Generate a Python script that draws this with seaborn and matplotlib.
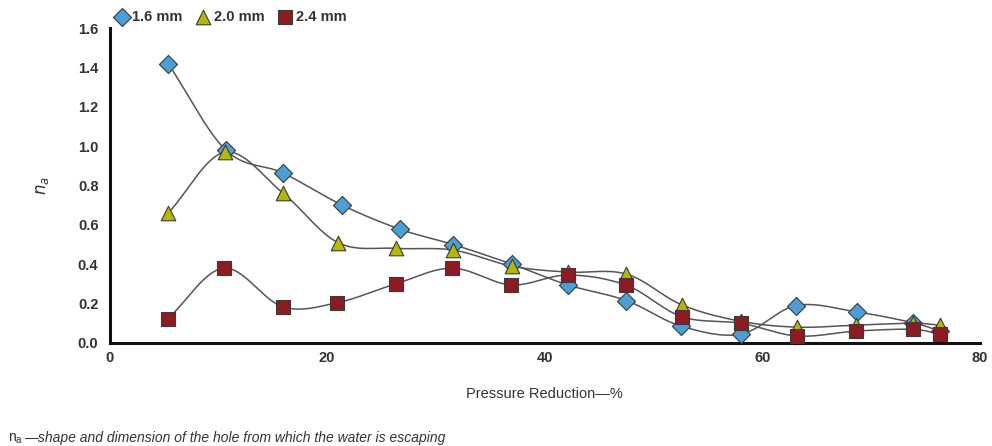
import numpy as np
import pandas as pd
import matplotlib
matplotlib.use("Agg")
import matplotlib.pyplot as plt
import seaborn as sns

# Values
x_16 = [5.4, 10.7, 15.9, 21.4, 26.7, 31.6, 37.0, 42.1, 47.5, 52.5, 58.0, 63.1, 68.7, 73.8, 76.3]
na_16 = [1.42, 0.98, 0.865, 0.70, 0.578, 0.50, 0.40, 0.295, 0.215, 0.086, 0.044, 0.19, 0.157, 0.103, 0.06]

x_20 = [5.4, 10.6, 15.9, 21.0, 26.3, 31.6, 37.0, 42.1, 47.5, 52.6, 58.0, 63.2, 68.6, 73.8, 76.3]
na_20 = [0.66, 0.97, 0.764, 0.51, 0.481, 0.472, 0.39, 0.36, 0.35, 0.193, 0.11, 0.08, 0.09, 0.10, 0.09]

x_24 = [5.35, 10.5, 15.9, 20.9, 26.3, 31.5, 36.9, 42.1, 47.5, 52.6, 58.0, 63.2, 68.6, 73.8, 76.3]
na_24 = [0.122, 0.38, 0.184, 0.204, 0.30, 0.38, 0.295, 0.345, 0.293, 0.133, 0.10, 0.035, 0.06, 0.069, 0.044]

series = ["1.6 mm", "2.0 mm", "2.4 mm"]
colors = ["#4b9fd6", "#b3b800", "#8c1b22"]
markers = ["D", "^", "s"]


def catmull_rom(xs, ys, n=30):
    """Smooth curve through the points (like a spreadsheet 'smoothed line')."""
    p = np.column_stack([xs, ys]).astype(float)
    p = np.vstack([2 * p[0] - p[1], p, 2 * p[-1] - p[-2]])
    out = []
    t = np.linspace(0, 1, n, endpoint=False)[:, None]
    for i in range(1, len(p) - 2):
        p0, p1, p2, p3 = p[i - 1], p[i], p[i + 1], p[i + 2]
        seg = 0.5 * ((2 * p1) + (-p0 + p2) * t + (2 * p0 - 5 * p1 + 4 * p2 - p3) * t ** 2
                     + (-p0 + 3 * p1 - 3 * p2 + p3) * t ** 3)
        out.append(seg)
    out.append(p[-2][None, :])
    return np.vstack(out)


pts = pd.concat([
    pd.DataFrame({"x": x, "na": y, "size": s})
    for x, y, s in zip([x_16, x_20, x_24], [na_16, na_20, na_24], series)
], ignore_index=True)

curves = []
for x, y, s in zip([x_16, x_20, x_24], [na_16, na_20, na_24], series):
    c = catmull_rom(x, y)
    curves.append(pd.DataFrame({"x": c[:, 0], "na": c[:, 1], "size": s}))
curves = pd.concat(curves, ignore_index=True)

sns.set_style("white")
plt.rcParams["font.family"] = ["Liberation Sans", "DejaVu Sans"]

fig = plt.figure(figsize=(9.92, 4.46), dpi=100)
ax = fig.add_axes([0.1104, 0.2312, 0.8776, 0.7053])

for s in series:
    sub = curves[curves["size"] == s]
    ax.plot(sub["x"], sub["na"], color="#555555", lw=1.1, zorder=2)

for s, col, m in zip(series, colors, markers):
    sub = pts[pts["size"] == s]
    sns.scatterplot(data=sub, x="x", y="na", marker=m, color=col, s=110 if m != "D" else 85,
                    edgecolor="#3a3a3a", linewidth=0.8, ax=ax, zorder=3, label=s)

ax.set_xlim(0, 80)
ax.set_ylim(0, 1.6)
ax.set_xticks([0, 20, 40, 60, 80])
ax.set_yticks(np.arange(0, 1.61, 0.2))
ax.set_yticklabels([f"{v:.1f}" for v in np.arange(0, 1.61, 0.2)])
ax.tick_params(axis="y", direction="out", length=6, width=1.2, color="#222222",
               labelsize=10.5, labelcolor="#333333", pad=2)
ax.tick_params(axis="x", direction="inout", length=8, width=1.2, color="#222222",
               labelsize=10.5, labelcolor="#333333", pad=2)
for lab in ax.get_xticklabels() + ax.get_yticklabels():
    lab.set_fontweight("bold")

for side in ["top", "right"]:
    ax.spines[side].set_visible(False)
for side in ["left", "bottom"]:
    ax.spines[side].set_linewidth(2.2)
    ax.spines[side].set_color("#111111")

ax.set_xlabel("Pressure Reduction\u2014%", fontsize=10.5, color="#333333", labelpad=16)
ax.set_ylabel(r"$n_a$", fontsize=12, color="#333333", labelpad=19)

leg = ax.legend(loc="upper left", bbox_to_anchor=(0.116, 0.978), bbox_transform=fig.transFigure,
                ncol=3, frameon=False, handlelength=0.9, handletextpad=0.25, columnspacing=1.0,
                borderaxespad=0, borderpad=0, prop={"weight": "bold", "size": 10.5})
for t in leg.get_texts():
    t.set_color("#333333")

t1 = fig.text(0.008, 0.01, r"n$\mathregular{_a}$", fontsize=10, color="#333333")
fig.canvas.draw()
bb = t1.get_window_extent()
x_end = (bb.x1 + 0.5) / fig.bbox.width
fig.text(x_end, 0.01, "\u2014shape and dimension of the hole from which the water is escaping",
         fontsize=10, style="italic", color="#333333")

fig.savefig("out.png", dpi=100)
plt.close(fig)
